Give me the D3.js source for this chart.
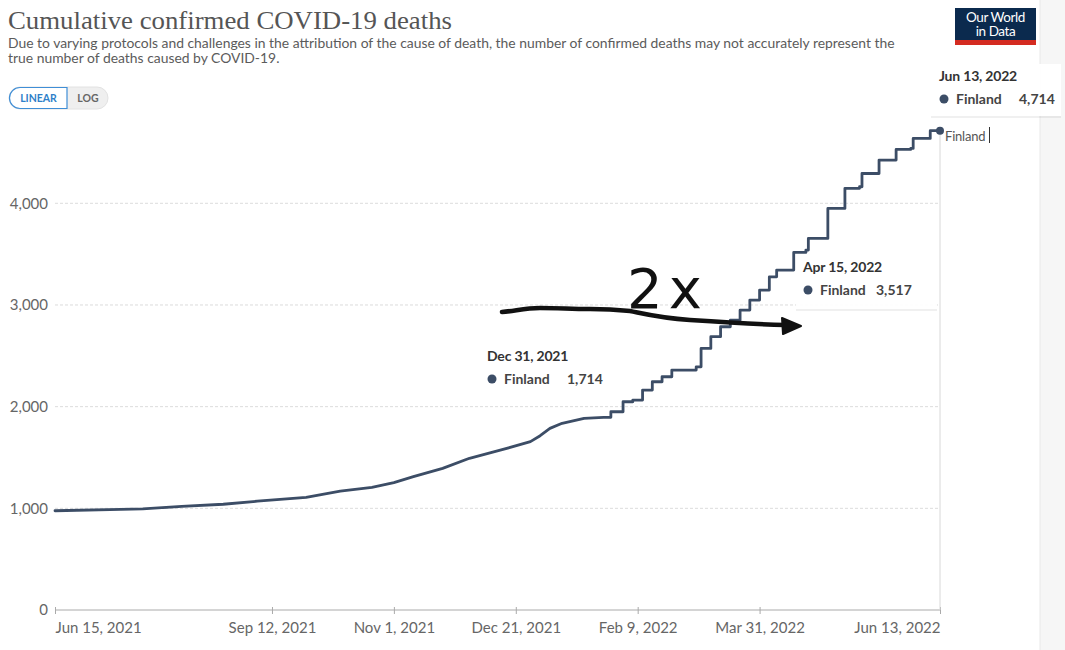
<!DOCTYPE html>
<html>
<head>
<meta charset="utf-8">
<script src="https://cdn.jsdelivr.net/npm/d3@7"></script>
<style>
  html, body { margin: 0; padding: 0; background: #fff; }
  svg { display: block; font-family: Lato, "Open Sans", sans-serif; }
</style>
</head>
<body>
<svg id="chart" width="1065" height="650"></svg>
<script>
// ---------- data ----------
const dates = [
  "2021-06-15","2021-07-12","2021-07-21","2021-08-06","2021-08-23","2021-09-06",
  "2021-09-26","2021-10-10","2021-10-23","2021-11-01","2021-11-09","2021-11-21",
  "2021-12-02","2021-12-15","2021-12-27","2021-12-31","2022-01-04","2022-01-09",
  "2022-01-18","2022-01-26","2022-01-29","2022-02-03","2022-02-07","2022-02-11",
  "2022-02-15","2022-02-19","2022-02-23","2022-03-05","2022-03-07","2022-03-11",
  "2022-03-15","2022-03-19","2022-03-23","2022-03-27","2022-03-31","2022-04-04",
  "2022-04-07","2022-04-14","2022-04-19","2022-04-20","2022-04-27",
  "2022-04-28","2022-05-05","2022-05-11","2022-05-12",
  "2022-05-19","2022-05-26","2022-06-01","2022-06-02",
  "2022-06-09","2022-06-13"
];
const deaths = [
  976, 990, 994, 1020, 1040, 1070,
  1108, 1170, 1207, 1252, 1311, 1393,
  1492, 1574, 1656, 1714, 1786, 1836,
  1885, 1895, 1950, 2048, 2065, 2163,
  2245, 2294, 2360, 2392, 2573, 2688,
  2786, 2851, 2950, 3048, 3147, 3277,
  3343, 3517, 3540, 3655, 3655,
  3950, 4147, 4163, 4293,
  4425, 4530, 4540, 4638,
  4714, 4714
];
const stepFrom = "2022-01-26"; // from here the reported series moves in steps
const countryName = "Finland";
const yTicks = [0, 1000, 2000, 3000, 4000];
const xTickDates = ["2021-06-15","2021-09-12","2021-11-01","2021-12-21","2022-02-09","2022-03-31","2022-06-13"];
const tipDates = ["2021-12-31","2022-04-15","2022-06-13"];
const tipValues = [1714, 3517, 4714];
const titleText = "Cumulative confirmed COVID-19 deaths";
const subtitleLines = [
  "Due to varying protocols and challenges in the attribution of the cause of death, the number of confirmed deaths may not accurately represent the",
  "true number of deaths caused by COVID-19."
];
const annotationText = "2x";

// ---------- setup ----------
const parse = d3.timeParse("%Y-%m-%d");
const fmtDate = d3.timeFormat("%b %-d, %Y");
const fmtNum = d3.format(",");
const series = dates.map((d, i) => ({ date: parse(d), value: deaths[i] }));
const splitIdx = dates.indexOf(stepFrom);
const smoothPart = series.slice(0, splitIdx + 1);
const stepPart = series.slice(splitIdx);

const svg = d3.select("#chart");
const lineColor = "#3c4d66";

const x = d3.scaleTime().domain([parse("2021-06-15"), parse("2022-06-13")]).range([55, 940]);
const y = d3.scaleLinear().domain([0, 4000]).range([610, 203.3]);

// right gray strip
svg.append("rect").attr("x", 1040).attr("y", 0).attr("width", 25).attr("height", 650).attr("fill", "#f6f6f6");
svg.append("line").attr("x1", 1040).attr("x2", 1040).attr("y1", 0).attr("y2", 650).attr("stroke", "#e8e8e8");

// title
svg.append("text").attr("x", 8).attr("y", 29)
  .attr("font-family", "'Liberation Serif', 'DejaVu Serif', serif")
  .attr("font-size", 26).attr("fill", "#555")
  .attr("textLength", 444).attr("lengthAdjust", "spacingAndGlyphs")
  .text(titleText);

subtitleLines.forEach((s, i) => {
  svg.append("text").attr("x", 8).attr("y", 48 + i * 15)
    .attr("font-size", 13.9).attr("fill", "#5b5b5b").text(s);
});

// logo
const logo = svg.append("g");
logo.append("rect").attr("x", 955).attr("y", 8).attr("width", 81).attr("height", 37).attr("fill", "#0b2a4e");
logo.append("rect").attr("x", 955).attr("y", 40).attr("width", 81).attr("height", 5).attr("fill", "#d42b21");
logo.append("text").attr("x", 995.5).attr("y", 22).attr("text-anchor", "middle")
  .attr("font-size", 13.5).attr("fill", "#fff").attr("letter-spacing", -0.4).text("Our World");
logo.append("text").attr("x", 995.5).attr("y", 36).attr("text-anchor", "middle")
  .attr("font-size", 13.5).attr("fill", "#fff").attr("letter-spacing", -0.4).text("in Data");

// linear / log toggle
const tg = svg.append("g");
tg.append("rect").attr("x", 9).attr("y", 87).attr("width", 99).attr("height", 22).attr("rx", 11)
  .attr("fill", "#efefef").attr("stroke", "#e2e2e2");
tg.append("path")
  .attr("d", "M67,87.5 L20,87.5 A10.5,10.5 0 0 0 20,108.5 L67,108.5 Z")
  .attr("fill", "#fff").attr("stroke", "#3f8ed6").attr("stroke-width", 1.2);
tg.append("text").attr("x", 38.5).attr("y", 102).attr("text-anchor", "middle")
  .attr("font-size", 10.5).attr("font-weight", "bold").attr("fill", "#2f7fc9").text("LINEAR");
tg.append("text").attr("x", 88).attr("y", 102).attr("text-anchor", "middle")
  .attr("font-size", 10.5).attr("font-weight", "bold").attr("fill", "#666").text("LOG");

// gridlines
const grid = svg.append("g");
grid.selectAll("line").data(yTicks.filter(t => t > 0)).join("line")
  .attr("x1", 55).attr("x2", 940)
  .attr("y1", d => y(d)).attr("y2", d => y(d))
  .attr("stroke", "#dcdcdc").attr("stroke-dasharray", "3,2");

// y axis labels
const yAxis = d3.axisLeft(y).tickValues(yTicks).tickSize(0).tickPadding(7).tickFormat(d3.format(","));
svg.append("g").attr("transform", "translate(55,0)").call(yAxis)
  .call(g => g.select(".domain").remove())
  .call(g => g.selectAll("text").attr("font-size", 15).attr("fill", "#666").attr("font-family", "Lato, sans-serif"));

// x axis
const xAxis = d3.axisBottom(x).tickValues(xTickDates.map(parse)).tickSize(5).tickPadding(7).tickFormat(fmtDate);
const xg = svg.append("g").attr("transform", "translate(0,610)").call(xAxis);
xg.select(".domain").attr("stroke", "#aaa").attr("d", "M55,0H940");
xg.selectAll(".tick line").attr("stroke", "#aaa").attr("y1", -3).attr("y2", 4);
xg.selectAll("text").attr("font-size", 15).attr("fill", "#666").attr("font-family", "Lato, sans-serif");
xg.selectAll(".tick").filter((d, i) => i === 0).select("text").attr("text-anchor", "start");
xg.selectAll(".tick").filter((d, i, n) => i === n.length - 1).select("text").attr("text-anchor", "end");

// hover line
const last = series[series.length - 1];
svg.append("line").attr("x1", x(last.date)).attr("x2", x(last.date))
  .attr("y1", y(last.value)).attr("y2", 610).attr("stroke", "#d8d8d8");

// line
const lineSmooth = d3.line().x(d => x(d.date)).y(d => y(d.value));
const lineStep = d3.line().curve(d3.curveStepAfter).x(d => x(d.date)).y(d => y(d.value));
svg.append("path").attr("d", lineSmooth(smoothPart) + lineStep(stepPart).replace(/^M/, "L"))
  .attr("fill", "none").attr("stroke", lineColor).attr("stroke-width", 2.8)
  .attr("stroke-linejoin", "round").attr("stroke-linecap", "round");

svg.append("circle").attr("cx", x(last.date)).attr("cy", y(last.value)).attr("r", 4).attr("fill", lineColor);
svg.append("text").attr("x", x(last.date) + 5).attr("y", y(last.value) + 10)
  .attr("font-size", 13).attr("fill", "#555").attr("letter-spacing", -0.2).text(countryName);
svg.append("line").attr("x1", 989.5).attr("x2", 989.5).attr("y1", 127).attr("y2", 143)
  .attr("stroke", "#333").attr("stroke-width", 1);

// tooltips
const tipPos = [
  { x: 487, y: 361, box: null, vx: 567 },
  { x: 803, y: 272, box: [796, 255, 141, 54], vx: 876 },
  { x: 939, y: 81, box: [931, 64, 130, 52], vx: 1019 }
];
tipDates.forEach((d, i) => {
  const p = tipPos[i];
  const g = svg.append("g");
  if (p.box) {
    g.append("rect").attr("x", p.box[0]).attr("y", p.box[1] + 2).attr("width", p.box[2]).attr("height", p.box[3])
      .attr("fill", "#000").attr("opacity", 0.06);
    g.append("rect").attr("x", p.box[0]).attr("y", p.box[1]).attr("width", p.box[2]).attr("height", p.box[3])
      .attr("fill", "#fff").attr("opacity", 0.97);
  }
  g.append("text").attr("x", p.x).attr("y", p.y).attr("font-size", 14).attr("font-weight", "bold")
    .attr("fill", "#333").attr("letter-spacing", -0.2).text(fmtDate(parse(d)));
  g.append("circle").attr("cx", p.x + 5).attr("cy", p.y + 18).attr("r", 4.5).attr("fill", lineColor);
  g.append("text").attr("x", p.x + 17).attr("y", p.y + 23).attr("font-size", 14).attr("font-weight", "bold")
    .attr("fill", "#444").text(countryName);
  g.append("text").attr("x", p.vx).attr("y", p.y + 23).attr("font-size", 14).attr("font-weight", "bold")
    .attr("fill", "#444").text(fmtNum(tipValues[i]));
});

// hand-drawn annotation
const ann = svg.append("g");
ann.append("path")
  .attr("d", "M502,312 C515,311 525,308 540,308 C560,308 570,309 590,309 C610,309 620,310 630,311 C645,314 660,318 690,320 C720,322 750,324 785,325")
  .attr("fill", "none").attr("stroke", "#111").attr("stroke-width", 4.5).attr("stroke-linecap", "round");
ann.append("path").attr("d", "M782,318 L801,326 L783,334 Z").attr("fill", "#111").attr("stroke", "#111")
  .attr("stroke-width", 2).attr("stroke-linejoin", "round");
ann.append("text").attr("x", 627).attr("y", 308).attr("font-family", "'DejaVu Sans', sans-serif")
  .attr("font-size", 56).attr("fill", "#111").attr("letter-spacing", 6).text(annotationText);
</script>
</body>
</html>
